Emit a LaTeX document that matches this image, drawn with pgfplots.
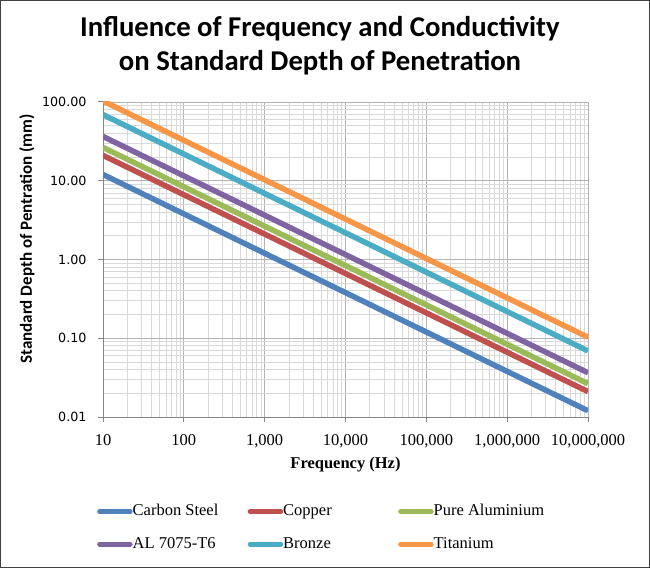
\documentclass[border=0pt]{standalone}
\usepackage{fontspec}
\setmainfont{Liberation Serif}
\newfontfamily\titlefont{Carlito}
\newfontfamily\ytickfont{DejaVu Sans}
\usepackage{pgfplots}
\pgfplotsset{compat=1.18}
\definecolor{cCS}{HTML}{4F81BD}
\definecolor{cCu}{HTML}{C0504D}
\definecolor{cAl}{HTML}{9BBB59}
\definecolor{cAL}{HTML}{8064A2}
\definecolor{cBr}{HTML}{4BACC6}
\definecolor{cTi}{HTML}{F79646}
\definecolor{majgrid}{HTML}{B3B3B3}
\definecolor{mingrid}{HTML}{D9D9D9}
\definecolor{axgray}{HTML}{868686}
\begin{document}
\begin{tikzpicture}
\draw[draw={rgb,255:red,64;green,64;blue,64}, line width=1pt] (0.5pt,0.5pt) rectangle (649.5pt,567.5pt);
\node[font=\titlefont\bfseries\fontsize{28.7}{32}\selectfont, anchor=base] at (320pt,531pt) {Influence of Frequency and Conductivity};
\node[font=\titlefont\bfseries\fontsize{28.7}{32}\selectfont, anchor=base] at (320pt,497pt) {on Standard Depth of Penetration};
\node[font=\titlefont\bfseries\fontsize{17}{19}\selectfont, rotate=90] at (27pt,329pt) {Standard Depth of Pentration (mm)};
\begin{axis}[
  at={(103pt,151pt)}, anchor=south west,
  width=485pt, height=315pt, scale only axis,
  xmode=log, ymode=log,
  xmin=10, xmax=1e7, ymin=0.01, ymax=100,
  xtick={10,100,1000,10000,100000,1000000,10000000},
  xticklabels={10,100,{1,000},{10,000},{100,000},{1,000,000},{10,000,000}},
  ytick={0.01,0.1,1,10,100},
  yticklabels={0.01,0.10,1.00,10.00,100.00},
  xticklabel style={font=\fontsize{16.5}{18}\selectfont, yshift=-9pt},
  yticklabel style={font=\ytickfont\fontsize{12.7}{15}\selectfont, xshift=-8pt},
  grid=both,
  major grid style={draw=majgrid, line width=0.8pt},
  minor grid style={draw=mingrid, line width=0.8pt},
  axis x line*=bottom, axis y line*=left,
  axis line style={-, draw=axgray, line width=1pt},
  tick align=outside, major tick length=5pt, minor tick length=0pt,
  tick style={draw=axgray, line width=1pt},
  xlabel={Frequency (Hz)},
  xlabel style={font=\bfseries\fontsize{16.5}{18}\selectfont, yshift=-2pt},
  legend columns=3,
  legend style={draw=none, fill=none, inner sep=0pt, column sep=0pt, row sep=20pt,
    at={(-0.0124,-0.276)}, anchor=north west,
    font=\fontsize{16.5}{18}\selectfont,
    nodes={inner sep=0pt, anchor=base west}},
  legend image code/.code={\draw[#1, line width=5pt, line cap=round] (2.5pt,4pt) -- (33pt,4pt);},
  legend cell align=left,
  every axis plot/.append style={line width=5.5pt},
  clip=true,
]
\addplot[cCS] coordinates {(10,12.0) (1e7,0.0120)};
\addlegendentry{\makebox[115pt][l]{Carbon Steel}}
\addplot[cCu] coordinates {(10,21.0) (1e7,0.0210)};
\addlegendentry{\makebox[115pt][l]{Copper}}
\addplot[cAl] coordinates {(10,26.5) (1e7,0.0265)};
\addlegendentry{\makebox[115pt][l]{Pure Aluminium}}
\addplot[cAL] coordinates {(10,36.5) (1e7,0.0365)};
\addlegendentry{\makebox[115pt][l]{AL 7075-T6}}
\addplot[cBr] coordinates {(10,69.0) (1e7,0.0690)};
\addlegendentry{\makebox[115pt][l]{Bronze}}
\addplot[cTi] coordinates {(10,103.0) (1e7,0.1030)};
\addlegendentry{\makebox[115pt][l]{Titanium}}
\end{axis}
\end{tikzpicture}
\end{document}
